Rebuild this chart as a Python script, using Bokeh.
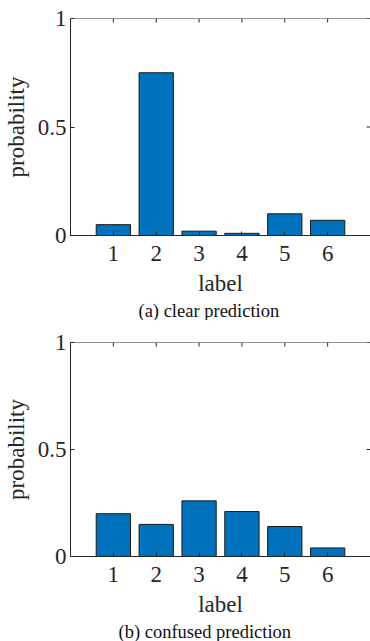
import math
from bokeh.plotting import figure
from bokeh.models import Range1d, FixedTicker, Title
from bokeh.layouts import column
from bokeh.embed import file_html
from bokeh.resources import INLINE

# ---- data ----
labels = [1, 2, 3, 4, 5, 6]
clear_probs = [0.05, 0.75, 0.02, 0.01, 0.10, 0.07]
confused_probs = [0.20, 0.15, 0.26, 0.21, 0.14, 0.04]
y_ticks = [0, 0.5, 1]
y_tick_labels = ["0", "0.5", "1"]
captions = ["(a) clear prediction", "(b) confused prediction"]
x_label = "label"
y_label = "probability"
x_lo, x_hi = 0, 7
y_lo, y_hi = 0, 1

FONT = "Liberation Serif"
AX = "#262626"
BAR = "#0072BD"


def make(vals, caption, height, top_border, left_border, cap_offset):
    p = figure(width=370, height=height, x_range=Range1d(x_lo, x_hi), y_range=Range1d(y_lo, y_hi),
               output_backend="svg", toolbar_location=None,
               min_border_left=left_border, min_border_right=0, min_border_top=top_border,
               min_border_bottom=0, x_axis_label=x_label, y_axis_label=y_label)
    p.vbar(x=labels, top=vals, bottom=0, width=0.8, fill_color=BAR,
           line_color="#1a1a1a", line_width=1)
    p.grid.visible = False
    p.outline_line_color = None
    p.background_fill_color = "white"
    p.border_fill_color = "white"

    ov = {t: s for t, s in zip(y_ticks, y_tick_labels)}
    for ax in p.xaxis:
        ax.ticker = FixedTicker(ticks=labels)
        ax.major_label_standoff = 10
        ax.axis_label_standoff = 7
    for ax in p.yaxis:
        ax.ticker = FixedTicker(ticks=y_ticks)
        ax.major_label_overrides = ov
        ax.major_label_standoff = 4
        ax.axis_label_standoff = 6
    for ax in list(p.xaxis) + list(p.yaxis):
        ax.axis_line_color = AX
        ax.major_tick_line_color = AX
        ax.major_tick_in = 4
        ax.major_tick_out = 0
        ax.minor_tick_line_color = None
        ax.major_label_text_font = FONT
        ax.major_label_text_font_size = "23px"
        ax.major_label_text_color = AX
        ax.axis_label_text_font = FONT
        ax.axis_label_text_font_size = "23px"
        ax.axis_label_text_font_style = "normal"
        ax.axis_label_text_color = AX

    # top edge of the box (right edge falls just outside the picture)
    p.ray(x=[x_lo], y=[y_hi], length=0, angle=0, line_color=AX, line_width=1)
    # inward ticks on the top and right edges of the box
    p.ray(x=labels, y=[y_hi] * len(labels), length=4, length_units="screen",
          angle=-math.pi / 2, line_color=AX, line_width=1)
    p.ray(x=[x_hi] * len(y_ticks), y=y_ticks, length=4, length_units="screen",
          angle=math.pi, line_color=AX, line_width=1)

    t = Title(text=caption, align="left", text_font=FONT, text_font_size="18.5px",
              text_font_style="normal", text_color="#111111", standoff=0, offset=cap_offset)
    p.add_layout(t, "below")
    return p


p1 = make(clear_probs, captions[0], 320, 18, 68, 68)
p2 = make(confused_probs, captions[1], 321, 22, 70, 48)
layout = column(p1, p2, spacing=0)

open("out.html", "w").write(file_html(layout, INLINE))
